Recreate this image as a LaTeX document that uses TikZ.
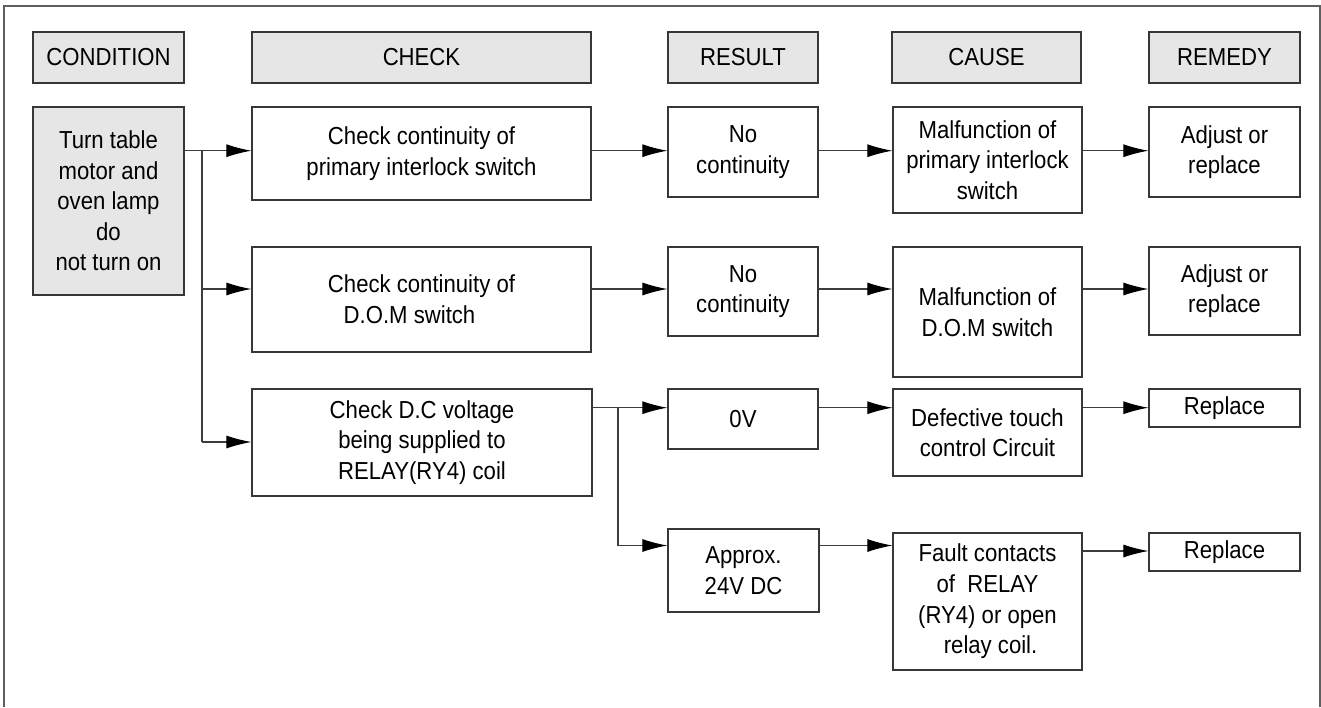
\documentclass[tikz,border=0pt]{standalone}
\usepackage{fontspec}
\setmainfont[FakeStretch=0.9]{Liberation Sans}
\definecolor{headfill}{RGB}{230,230,230}
\definecolor{edge}{RGB}{55,55,55}
\definecolor{wire}{RGB}{60,60,60}
\usetikzlibrary{arrows.meta}

\begin{document}
\begin{tikzpicture}[x=0.5pt, y=-0.5pt,
    cell/.style={draw=edge, line width=0.6pt, inner sep=0pt, align=center,
        font=\fontsize{12.3}{15.3}\selectfont},
    head/.style={cell, fill=headfill, minimum height=25.5pt},
    flow/.style={draw=wire, line width=0.55pt, -{Latex[length=12.5pt,width=6.5pt,black]}}]
    \useasboundingbox (0,0) rectangle (1321,707);

    % Frame
    \draw[edge!80, line width=0.6pt] (4,707) -- (4,6) -- (1320,6) -- (1320,707);

    % Headers
    \node[head, minimum width=75.5pt] (hcond) at (108.5,57.5) {CONDITION};
    \node[head, minimum width=169.5pt] (hcheck) at (421.5,57.5) {CHECK};
    \node[head, minimum width=75pt] (hresult) at (743,57.5) {RESULT};
    \node[head, minimum width=94.5pt] (hcause) at (986.5,57.5) {CAUSE};
    \node[head, minimum width=75.5pt] (hremedy) at (1224.5,57.5) {REMEDY};

    % Condition
    \node[cell, fill=headfill, minimum width=75.5pt, minimum height=94pt] (cond) at (108.5,201)
        {Turn table\\motor and\\oven lamp\\do\\not turn on};

    % Checks
    \node[cell, minimum width=169.5pt, minimum height=46.5pt] (chk1) at (421.5,153.5)
        {Check continuity of\\primary interlock switch};
    \node[cell, minimum width=169.5pt, minimum height=52.5pt] (chk2) at (421.5,299.5)
        {Check continuity of\\D.O.M switch\hspace*{12pt}};
    \node[cell, minimum width=170pt, minimum height=53.5pt] (chk3) at (422,442.5)
        {Check D.C voltage\\being supplied to\\RELAY(RY4) coil};

    % Results
    \node[cell, minimum width=75pt, minimum height=45pt] (res1) at (743,152) {No\\continuity};
    \node[cell, minimum width=75pt, minimum height=44.5pt] (res2) at (743,291.5) {No\\continuity};
    \node[cell, minimum width=75pt, minimum height=30pt] (res3) at (743,419) {0V};
    \node[cell, minimum width=75.5pt, minimum height=41.5pt] (res4) at (743.5,570.5) {Approx.\\24V DC};

    % Causes
    \node[cell, minimum width=94.5pt, minimum height=53pt] (cse1) at (987.5,160)
        {Malfunction of\\primary interlock\\switch};
    \node[cell, minimum width=94.5pt, minimum height=65pt] (cse2) at (987.5,312)
        {Malfunction of\\D.O.M switch};
    \node[cell, minimum width=94.5pt, minimum height=43.5pt] (cse3) at (987.5,432.5)
        {Defective touch\\control Circuit};
    \node[cell, minimum width=94.5pt, minimum height=68.5pt] (cse4) at (987.5,601.5)
        {Fault contacts\\of\ \ RELAY\\(RY4) or open\\\ relay coil.};

    % Remedies
    \node[cell, minimum width=75.5pt, minimum height=45pt] (rem1) at (1224.5,152) {Adjust or\\replace};
    \node[cell, minimum width=75.5pt, minimum height=44pt] (rem2) at (1224.5,291) {Adjust or\\replace};
    \node[cell, minimum width=75.5pt, minimum height=19pt] (rem3) at (1224.5,408) {Replace};
    \node[cell, minimum width=75.5pt, minimum height=19pt] (rem4) at (1224.5,552) {Replace};

    % Row levels and branch points
    \coordinate (r1) at (0,150.7);
    \coordinate (r2) at (0,289);
    \coordinate (r3) at (0,442);
    \coordinate (s1) at (0,407.7);
    \coordinate (s2) at (0,545.5);
    \coordinate (s3) at (0,551);
    \coordinate (b1) at (202,0);
    \coordinate (b2) at (618,0);

    % Branches
    \draw[wire, line width=0.55pt] (cond.east |- r1) -- (b1 |- r1) -- (b1 |- r3);
    \draw[flow] (b1 |- r1) -- (chk1.west |- r1);
    \draw[flow] (b1 |- r2) -- (chk2.west |- r2);
    \draw[flow] (b1 |- r3) -- (chk3.west |- r3);

    \draw[wire, line width=0.55pt] (chk3.east |- s1) -- (b2 |- s1) -- (b2 |- s2);
    \draw[flow] (b2 |- s1) -- (res3.west |- s1);
    \draw[flow] (b2 |- s2) -- (res4.west |- s2);

    % Row arrows
    \foreach \a/\b/\r in {chk1/res1/r1, res1/cse1/r1, cse1/rem1/r1,
                          chk2/res2/r2, res2/cse2/r2, cse2/rem2/r2,
                          res3/cse3/s1, cse3/rem3/s1,
                          res4/cse4/s2, cse4/rem4/s3}
        \draw[flow] (\a.east |- \r) -- (\b.west |- \r);
\end{tikzpicture}
\end{document}
